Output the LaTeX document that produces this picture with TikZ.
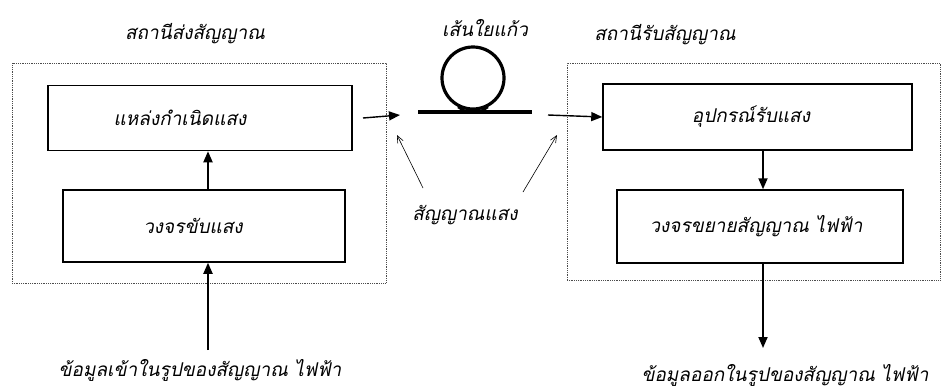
\documentclass[tikz,border=0pt]{standalone}
\usepackage{fontspec}
\newfontfamily\thaifont[Script=Thai,FakeSlant=0.2]{Loma}
\usetikzlibrary{arrows.meta}
\begin{document}
\begin{tikzpicture}[x=1pt,y=-1pt,
  every node/.style={font=\thaifont\fontsize{19}{22}\selectfont, inner sep=0pt},
  blockbox/.style={draw, line width=1.5pt, minimum width=#1, minimum height=65pt},
  station/.style={draw, densely dotted, line width=0.8pt, gray!60!black},
  flow/.style={line width=1.8pt, -{Triangle[length=11pt,width=9pt]}},
  hint/.style={line width=0.6pt, -{Straight Barb[length=7pt,width=6pt]}}]
\useasboundingbox (0,0) rectangle (945,389);
% stations
\node[station, minimum width=374pt, minimum height=220pt] (tx) at (199,173) {};
\node[station, minimum width=373pt, minimum height=217pt] (rx) at (753.5,171.5) {};
\node (txlabel) at (195,34) {สถานีส่งสัญญาณ};
\node (rxlabel) at (665,35) {สถานีรับสัญญาณ};
% left blocks
\node[blockbox=304pt] (src) at (200,118) {};
\node (srctext) at (180,118) {แหล่งกำเนิดแสง};
\node[blockbox=282pt, minimum height=72pt] (drv) at (204,226) {};
\node (drvtext) at (193,226) {วงจรขับแสง};
\node (inlbl) at (200,370) {ข้อมูลเข้าในรูปของสัญญาณ ไฟฟ้า};
\coordinate (inpt) at (208,350);
\draw[flow] (inpt) -- (inpt |- drv.south);
\draw[flow] (208,0 |- drv.north) -- (208,0 |- src.south);
% right blocks
\node[blockbox=309pt, minimum height=66pt] (det) at (757.5,117) {};
\node (dettext) at (751,117) {อุปกรณ์รับแสง};
\node[blockbox=286pt, minimum height=73pt] (amp) at (760,226.5) {};
\node (amptext) at (756,226.5) {วงจรขยายสัญญาณ ไฟฟ้า};
\coordinate (outpt) at (763,348);
\draw[flow] (763,0 |- det.south) -- (763,0 |- amp.north);
\draw[flow] (763,0 |- amp.south) -- (outpt);
\node (outlbl) at (785,375) {ข้อมูลออกในรูปของสัญญาณ ไฟฟ้า};
% fiber
\node (fiblbl) at (485,28) {เส้นใยแก้ว};
\coordinate (fibL) at (418,112);
\coordinate (fibR) at (532,112);
\draw[line width=3.2pt] (fibL) -- (fibR);
\draw[line width=3.2pt] (473,78) circle[radius=31];
\draw[line width=2.4pt] (458,107) to[out=-35,in=180] (473,112) to[out=0,in=215] (488,107);
% light arrows
\coordinate (a1e) at (400,115);
\draw[flow, line width=1.4pt] (src.east -| a1e) ++(-37,0) -- (a1e);
\coordinate (a2s) at (548,115);
\draw[flow, line width=1.4pt] (a2s) -- (det.west);
% signal label
\node (sig) at (465,215) {สัญญาณแสง};
\draw[hint] (423,188) -- (397,135);
\draw[hint] (523,192) -- (557,135);
\end{tikzpicture}
\end{document}
